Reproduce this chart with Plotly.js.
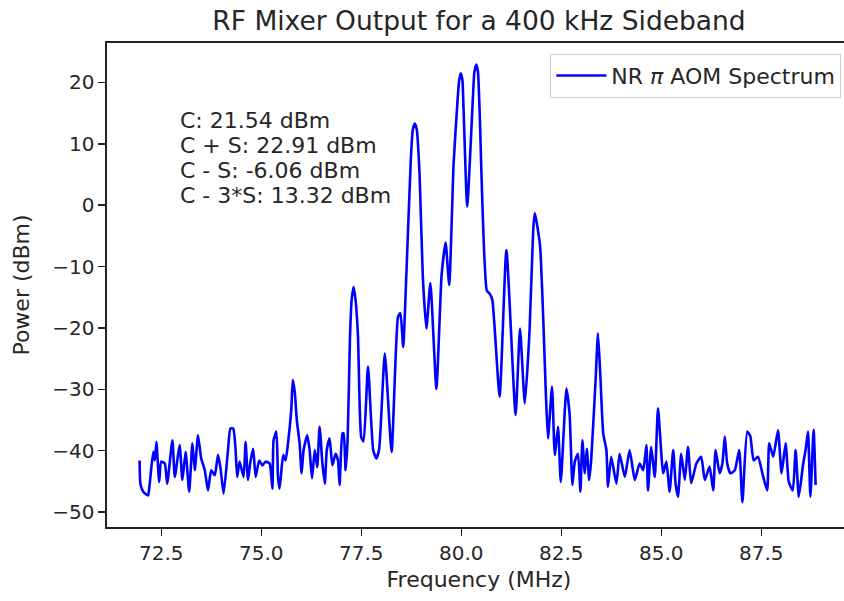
<!DOCTYPE html>
<html>
<head>
<meta charset="utf-8">
<script src="https://cdn.plot.ly/plotly-3.0.1.min.js"></script>
<style>
html,body{margin:0;padding:0;width:844px;height:601px;overflow:hidden;background:#fff;}
#chart{width:900px;height:601px;}
</style>
</head>
<body>
<div id="chart"></div>
<script>
// Frequency (MHz)
const freq = [71.96,71.98,72.05,72.17,72.21,72.30,72.34,72.38,72.45,72.50,72.59,72.65,72.78,72.84,72.96,73.03,73.11,73.20,73.28,73.34,73.42,73.50,73.59,73.67,73.75,73.84,73.92,73.98,74.06,74.17,74.23,74.30,74.36,74.40,74.46,74.56,74.61,74.67,74.73,74.80,74.86,74.95,75.03,75.11,75.21,75.28,75.31,75.38,75.42,75.46,75.55,75.61,75.67,75.75,75.79,75.84,75.89,75.96,76.01,76.06,76.15,76.21,76.27,76.34,76.40,76.46,76.53,76.59,76.64,76.71,76.78,76.86,76.92,76.96,77.03,77.06,77.11,77.16,77.22,77.26,77.31,77.36,77.42,77.50,77.56,77.67,77.80,77.88,77.95,78.09,78.26,78.42,78.48,78.55,78.63,78.74,78.79,78.84,78.89,78.96,79.04,79.13,79.23,79.38,79.51,79.61,79.70,79.81,79.91,79.95,79.99,80.03,80.06,80.15,80.29,80.33,80.38,80.42,80.46,80.64,80.72,80.78,80.96,81.13,81.36,81.47,81.59,81.71,81.80,81.84,81.97,82.12,82.17,82.27,82.34,82.42,82.49,82.63,82.71,82.78,82.84,82.92,82.98,83.03,83.09,83.14,83.20,83.25,83.36,83.42,83.48,83.55,83.63,83.67,83.75,83.88,83.96,84.09,84.21,84.34,84.46,84.55,84.63,84.67,84.75,84.84,84.92,85.05,85.13,85.21,85.30,85.36,85.42,85.50,85.59,85.67,85.75,85.88,86.00,86.09,86.21,86.30,86.36,86.46,86.53,86.59,86.65,86.73,86.84,86.95,87.03,87.15,87.23,87.31,87.42,87.53,87.65,87.70,87.80,87.92,88.01,88.11,88.19,88.29,88.36,88.44,88.55,88.61,88.67,88.73,88.81,88.86];
// Power (dBm)
const power = [-41.6,-45.4,-46.7,-47.3,-45.6,-40.2,-41.6,-38.6,-45.1,-41.8,-42.1,-45.4,-38.3,-44.3,-39.1,-44.8,-40.2,-46.7,-38.8,-43.2,-37.5,-41.3,-43.2,-46.5,-43.2,-44.0,-40.7,-42.7,-47.0,-39.9,-36.4,-36.4,-39.9,-44.3,-41.8,-44.3,-38.6,-44.8,-41.8,-39.7,-44.3,-41.6,-42.4,-41.8,-42.1,-46.2,-38.3,-36.9,-44.3,-46.2,-40.7,-41.6,-38.8,-33.5,-28.5,-30.5,-35.0,-38.8,-43.7,-39.9,-37.5,-39.9,-44.5,-39.9,-42.7,-36.1,-42.1,-45.4,-39.9,-38.0,-42.4,-40.5,-41.6,-45.6,-37.2,-37.2,-43.2,-38.3,-21.4,-15.5,-13.3,-15.5,-21.4,-37.8,-38.5,-26.3,-39.9,-41.3,-39.7,-24.2,-40.2,-18.2,-17.6,-23.1,-11.1,7.4,12.3,13.3,12.3,4.9,-11.6,-20.1,-12.7,-29.9,-11.4,-6.1,-13.0,6.8,17.2,20.4,21.5,20.4,15.5,-0.2,17.2,21.7,22.9,21.7,15.5,-13.9,-14.5,-15.5,-31.2,-7.3,-34.2,-20.1,-32.3,-20.3,-4.0,-1.3,-6.5,-31.3,-38.0,-29.6,-40.7,-36.1,-45.1,-29.9,-34.0,-45.6,-41.8,-40.5,-46.7,-38.3,-43.7,-39.7,-44.8,-41.5,-28.5,-20.9,-28.0,-37.2,-39.9,-45.9,-41.0,-45.4,-40.5,-44.3,-39.9,-44.8,-42.1,-43.2,-39.1,-46.5,-39.4,-44.3,-33.1,-43.7,-41.8,-46.7,-39.9,-45.4,-47.5,-40.5,-44.8,-39.4,-45.3,-42.1,-41.0,-44.8,-42.6,-46.5,-39.9,-43.7,-42.1,-37.7,-42.1,-43.7,-43.2,-39.9,-48.4,-36.9,-37.7,-41.6,-41.0,-43.7,-46.5,-38.8,-41.0,-36.7,-43.7,-38.8,-45.1,-46.5,-39.9,-47.5,-42.1,-39.9,-36.9,-47.5,-36.6,-45.6];
const xTicks = [72.5, 75.0, 77.5, 80.0, 82.5, 85.0, 87.5];
const xTickText = ["72.5", "75.0", "77.5", "80.0", "82.5", "85.0", "87.5"];
const yTicks = [20, 10, 0, -10, -20, -30, -40, -50];
const yTickText = ["20", "10", "0", "\u221210", "\u221220", "\u221230", "\u221240", "\u221250"];
const infoLines = ["C: 21.54 dBm", "C + S: 22.91 dBm", "C - S: -6.06 dBm", "C - 3*S: 13.32 dBm"];
const seriesName = "NR <i>\u03c0</i> AOM Spectrum";

const FONT = "DejaVu Sans, sans-serif";
const infoY = [13.75, 9.67, 5.59, 1.51];

const trace = {
  x: freq, y: power, type: "scatter", mode: "lines",
  name: seriesName,
  line: {color: "#0000ff", width: 2.6, shape: "spline", smoothing: 0.5},
  showlegend: true
};

const layout = {
  width: 900, height: 601,
  margin: {l: 107, r: 49, t: 43, b: 74, pad: 0},
  paper_bgcolor: "#ffffff", plot_bgcolor: "#ffffff",
  font: {family: FONT, color: "#262626", size: 22},
  title: {text: "RF Mixer Output for a 400 kHz Sideband", font: {family: FONT, size: 26.5, color: "#262626"},
          x: 0.5, xref: "paper", xanchor: "center", y: 0.966, yref: "container", yanchor: "middle"},
  xaxis: {
    range: [71.145, 89.745], tickvals: xTicks, ticktext: xTickText,
    showgrid: false, zeroline: false, showline: true, mirror: true, linecolor: "#222", linewidth: 1.6,
    ticks: "outside", ticklen: 7, tickwidth: 1.4, tickcolor: "#222",
    tickfont: {family: FONT, size: 20, color: "#262626"},
    title: {text: "Frequency (MHz)", font: {family: FONT, size: 22, color: "#262626"}, standoff: 8}
  },
  yaxis: {
    range: [-52.45, 26.43], tickvals: yTicks, ticktext: yTickText,
    showgrid: false, zeroline: false, showline: true, mirror: true, linecolor: "#222", linewidth: 1.6,
    ticks: "outside", ticklen: 7, tickwidth: 1.4, tickcolor: "#222",
    tickfont: {family: FONT, size: 20, color: "#262626"},
    title: {text: "Power (dBm)", font: {family: FONT, size: 22, color: "#262626"}, standoff: 16}
  },
  legend: {
    x: 0.987, y: 0.978, xanchor: "right", yanchor: "top",
    bgcolor: "rgba(255,255,255,0.8)", bordercolor: "#cccccc", borderwidth: 1,
    font: {family: FONT, size: 22, color: "#262626"}, itemwidth: 50
  },
  annotations: infoLines.map((t, i) => ({
    x: 72.92, y: infoY[i], xref: "x", yref: "y", text: t, showarrow: false,
    xanchor: "left", yanchor: "middle", align: "left",
    font: {family: FONT, size: 22, color: "#262626"}
  }))
};

Plotly.newPlot("chart", [trace], layout, {displayModeBar: false, staticPlot: true});
</script>
</body>
</html>
